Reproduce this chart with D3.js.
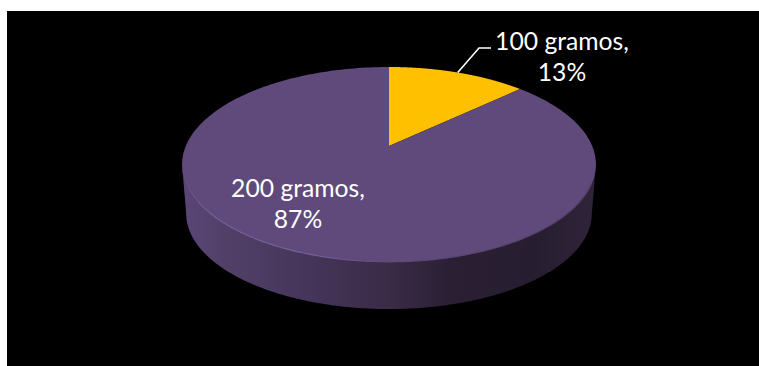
<!DOCTYPE html>
<html><head><meta charset="utf-8">
<script src="https://cdn.jsdelivr.net/npm/d3@7"></script>
<style>html,body{margin:0;padding:0;background:#fff}svg{display:block}text{font-family:Lato,"Open Sans",sans-serif;fill:#fff;font-size:24.7px;text-anchor:middle}</style>
</head><body><svg id="c" width="759" height="366"></svg>
<script>
const categories = ["100 gramos", "200 gramos"];
const values = [13, 87];
const colors = ["#ffc000", "#604a7b"];

const svg = d3.select("#c");
svg.append("rect").attr("x", 7).attr("y", 11).attr("width", 752).attr("height", 355).attr("fill", "#000");

const defs = svg.append("defs");
const side = defs.append("linearGradient").attr("id", "side").attr("gradientUnits", "userSpaceOnUse")
  .attr("x1", 182).attr("x2", 596).attr("y1", 0).attr("y2", 0);
[[0, "#5a4677"], [0.1, "#524069"], [0.3, "#45355a"], [0.5, "#3a2b47"], [0.65, "#2a1f33"], [0.85, "#271d30"], [1, "#2f2439"]]
  .forEach(([o, c]) => side.append("stop").attr("offset", o).attr("stop-color", c));
const rim = defs.append("linearGradient").attr("id", "rim").attr("gradientUnits", "userSpaceOnUse")
  .attr("x1", 182).attr("x2", 596).attr("y1", 0).attr("y2", 0);
[[0, "#604a7b"], [0.06, "#7561 9a".replace(" ", "")], [0.3, "#75619a"], [0.48, "#604a7b"], [1, "#4d3c64"]]
  .forEach(([o, c]) => rim.append("stop").attr("offset", o).attr("stop-color", c));

// Perspective projection of the unit disc onto the page
const cx = 389, persp = -0.1897, R = 203.2, a = 66.3, b = 146, midY = 164.5;
const project = (theta, scale = 1, dy = 0) => {
  const u = Math.sin(theta), v = -Math.cos(theta), d = 1 + persp * v;
  const y = (a * v + b) / d;
  return [cx + scale * R * u / d, midY + scale * (y - midY) + dy];
};
const line = d3.line();
const arcPts = (t0, t1, scale, dy) => d3.range(0, 241).map(i => project(t0 + (t1 - t0) * i / 240, scale, dy));

// The rim's widest points, where the wall starts
const widest = Math.acos(persp);
// Side wall: between the lower half of the top rim and the lower half of the bottom rim
const wall = arcPts(widest, 2 * Math.PI - widest, 1, 0)
  .concat(arcPts(2 * Math.PI - widest, widest, 0.98, 49));
svg.append("path").attr("d", line(wall) + "Z").attr("fill", "url(#side)");

// Top face, from d3.pie angles
const slices = d3.pie().sort(null).value(d => d)(values);
svg.selectAll("path.slice").data(slices).join("path").attr("class", "slice")
  .attr("fill", (d, i) => colors[i])
  .attr("d", d => line([[cx, b]].concat(arcPts(d.startAngle, d.endAngle, 1, 0))) + "Z");

// Highlight on the front rim
svg.append("path").attr("d", line(arcPts(Math.PI * 0.62, Math.PI * 1.42, 0.998, 0)))
  .attr("fill", "none").attr("stroke", "url(#rim)").attr("stroke-width", 1.2);

// Leader
const lead = d3.line();
svg.append("path").attr("fill", "none").attr("stroke", "#fff").attr("stroke-width", 1.6)
  .attr("d", lead([project(slices[0].endAngle * 0.5), [479, 48], [491, 48]]));

// Labels
const pct = d3.format(".0%");
const labelPos = [[562, 50, 81], [298, 197, 228]];
values.forEach((v, i) => {
  const [x, y1, y2] = labelPos[i];
  svg.append("text").attr("x", x).attr("y", y1).text(categories[i] + ",");
  svg.append("text").attr("x", x).attr("y", y2).text(pct(v / d3.sum(values)));
});
</script></body></html>
